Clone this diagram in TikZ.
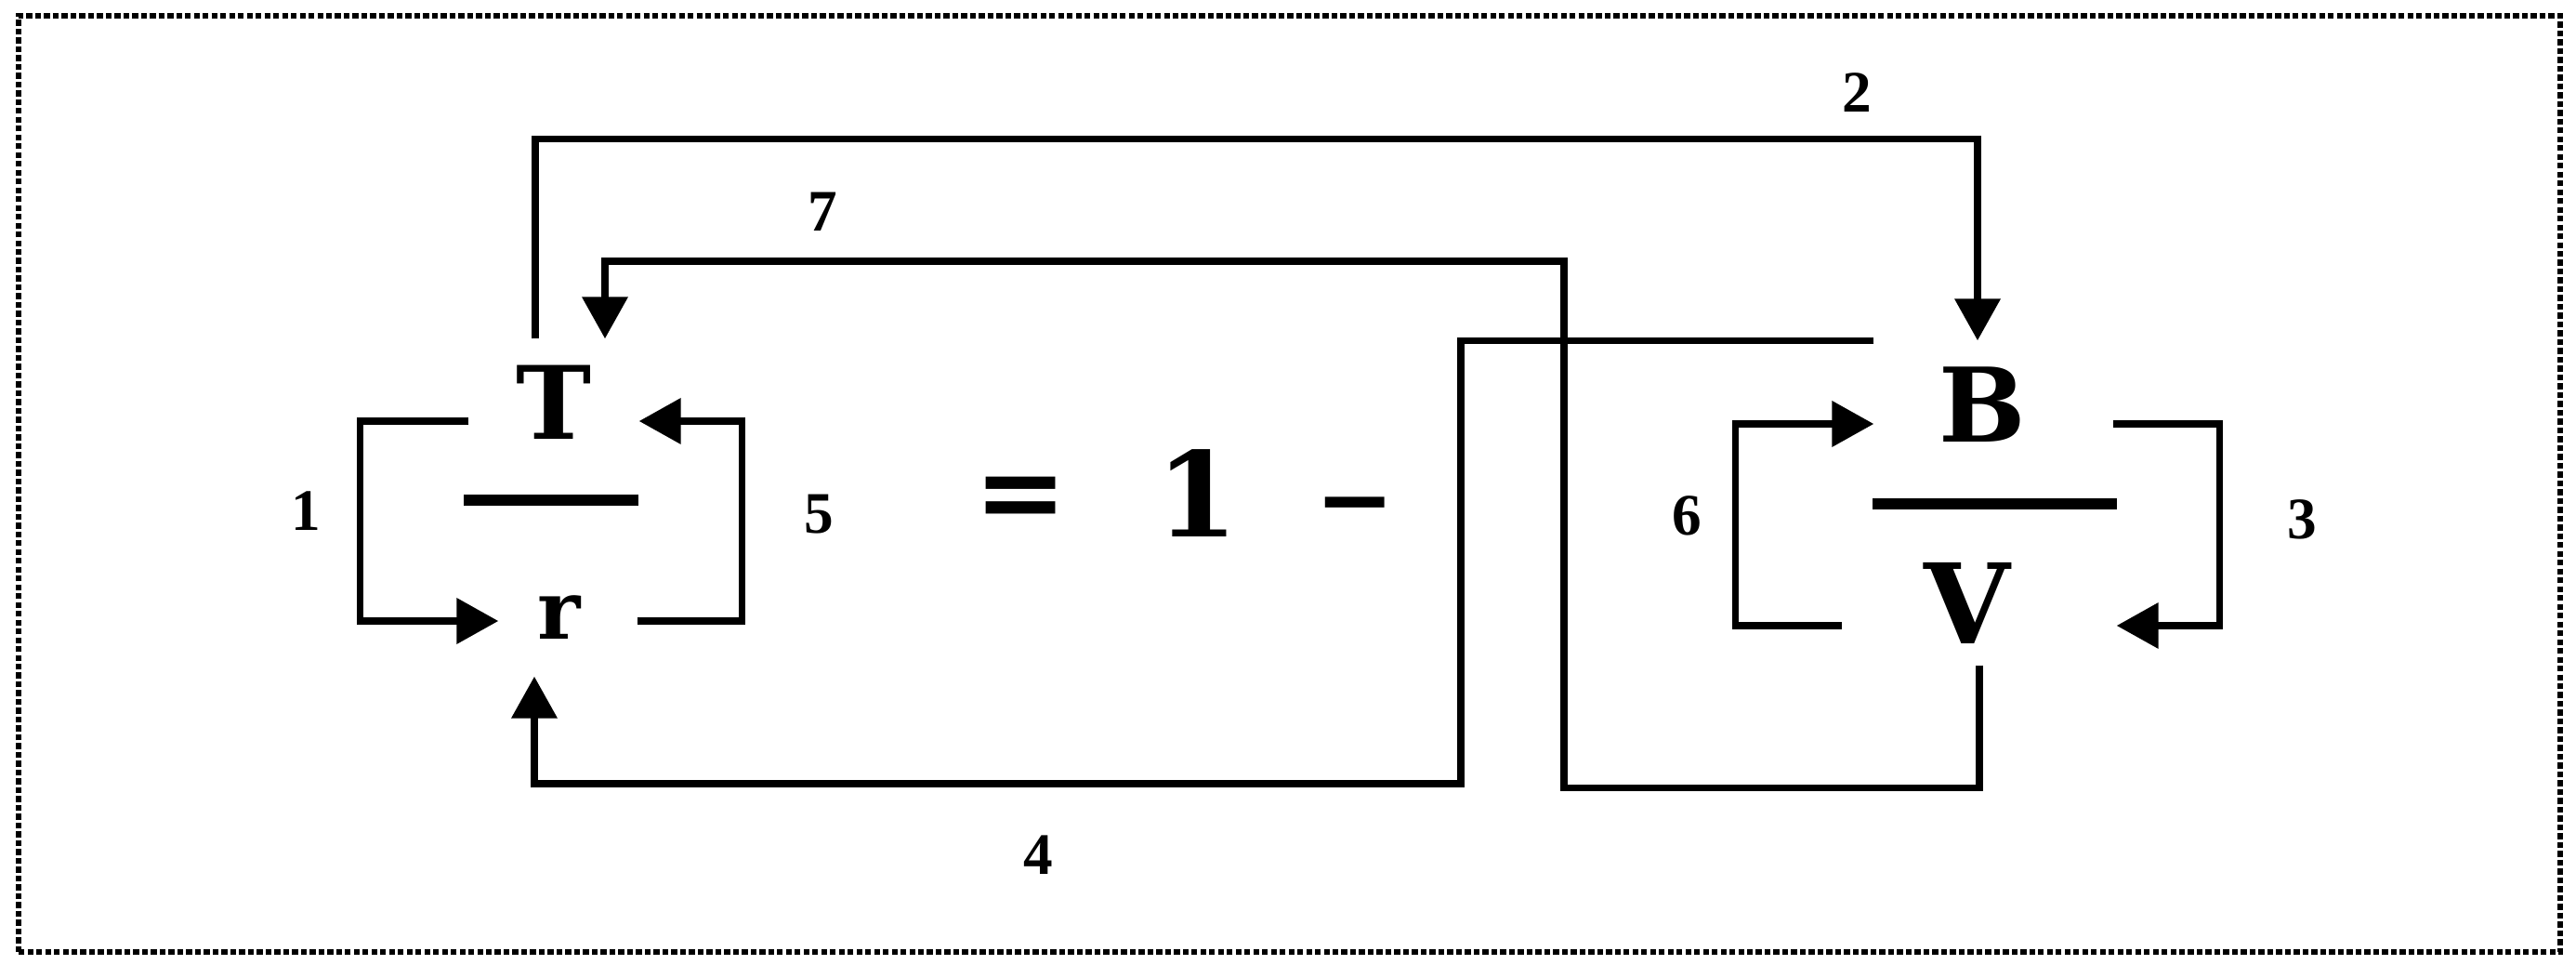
\documentclass[tikz,border=0pt]{standalone}
\usepackage{fontspec}
\newfontfamily\numfont{Liberation Serif}
\newfontfamily\bigfont{DejaVu Serif}
\usetikzlibrary{arrows.meta}
\begin{document}
\begin{tikzpicture}
    \tikzstyle{every node}=[inner sep=0pt, font=\numfont\bfseries\fontsize{18}{18}\selectfont, text=black]
    \tikzstyle{letter}=[text height=0.6cm, text depth=0.2cm]
    \tikzstyle{link}=[black, line width=2.1pt, -{Triangle[length=0.45cm, width=0.48cm]}]
    \tikzstyle{bar}=[black, line width=3.2pt]

    \useasboundingbox (0,0) rectangle (27.72,10.51);
    \draw[line width=1.8pt, dash pattern=on 1.8pt off 0.9pt] (0.20,0.27) rectangle (27.55,10.34);

    \node[letter, minimum width=1.82cm, minimum height=1.76cm, font=\bigfont\bfseries\fontsize{31}{31}\selectfont] (T) at (5.96,5.98) {T};
    \node[letter, minimum width=1.48cm, minimum height=1.18cm, font=\bigfont\bfseries\fontsize{25}{25}\selectfont] (r) at (6.11,3.83) {\kern-0.18cm r};
    \node[letter, minimum width=2.56cm, minimum height=1.78cm, font=\bigfont\bfseries\fontsize{31.5}{31.5}\selectfont] (B) at (21.45,5.95) {\kern-0.24cm B};
    \node[letter, minimum width=2.94cm, minimum height=0.84cm, font=\bigfont\bfseries\fontsize{34}{34}\selectfont] (V) at (21.30,3.78) {\kern-0.26cm V};

    \node[anchor=base, font=\bigfont\bfseries\fontsize{34}{34}\selectfont] (eq) at (10.99,4.80) {=};
    \node[anchor=base, font=\bigfont\bfseries\fontsize{36}{36}\selectfont] (one) at (12.88,4.73) {1};
    \node[anchor=base, font=\bigfont\bfseries\fontsize{29}{29}\selectfont] (minus) at (14.58,4.78) {−};

    \draw[bar] (4.99,5.13) -- (6.87,5.13);
    \draw[bar] (20.15,5.09) -- (22.78,5.09);

    \coordinate (k4) at (15.72,2.08);
    \coordinate (k7) at (16.83,7.70);

    \draw[link] (T.west) -- ++(-1.17,0) |- (r.west);
    \draw[link] ([xshift=-2mm]T.north) -- ++(0,2.15) -| ([xshift=-1.7mm]B.north);
    \draw[link] (B.east) -- ++(1.15,0) |- (V.east);
    \draw[link] (B.north west) -| (k4) -| ([xshift=-3.6mm]r.south);
    \draw[link] (r.east) -- ++(1.13,0) |- (T.east);
    \draw[link] (V.west) -- ++(-1.15,0) |- (B.west);
    \draw[link] (V.south) -- ++(0,-1.32) -| (k7) -| ([xshift=5.5mm]T.north);

    \node (n1) at (3.29,5.01) {1};
    \node (n2) at (19.98,9.51) {2};
    \node (n3) at (24.77,4.92) {3};
    \node (n4) at (11.17,1.31) {4};
    \node (n5) at (8.81,4.98) {5};
    \node (n6) at (18.15,4.96) {6};
    \node (n7) at (8.85,8.23) {7};
\end{tikzpicture}
\end{document}
